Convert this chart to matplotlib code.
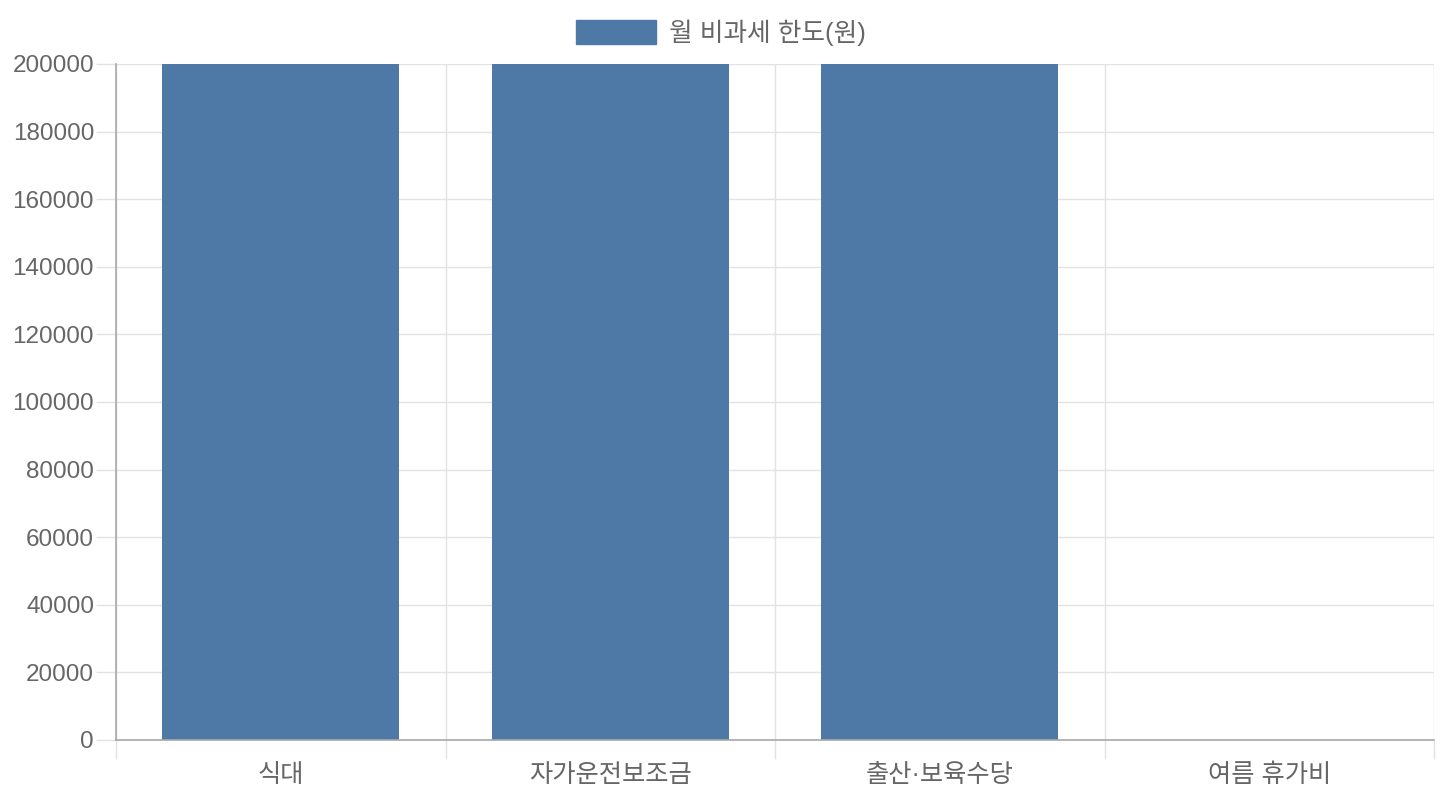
import matplotlib.pyplot as plt
from matplotlib.patches import Rectangle
from matplotlib.ticker import FixedLocator

plt.rcParams['font.family'] = ['Liberation Sans', 'Noto Sans CJK KR', 'DejaVu Sans']

# 데이터
categories = ['식대', '자가운전보조금', '출산·보육수당', '여름 휴가비']
limits = [200000, 200000, 200000, 0]
series_name = '월 비과세 한도(원)'
y_ticks = list(range(0, 200001, 20000))

bar_color = '#4e79a7'
text_color = '#666666'
grid_color = '#e2e2e2'
axis_color = '#a8a8a8'
PX = 0.72  # 1px -> pt (dpi 100)

fig = plt.figure(figsize=(14.4, 8), dpi=100)
ax = fig.add_axes([116 / 1440, 60 / 800, (1434 - 116) / 1440, (740 - 64) / 800])

x = list(range(len(categories)))
ax.bar(x, limits, width=0.72, color=bar_color, zorder=3)

ax.set_xlim(-0.5, len(categories) - 0.5)
ax.set_ylim(0, 200000)

# y축
ax.set_yticks(y_ticks)
ax.set_yticklabels([str(v) for v in y_ticks], family=['Liberation Sans'])
ax.tick_params(axis='y', length=20 * PX, width=1, color=grid_color, labelsize=17.5,
               labelcolor=text_color, pad=2 * PX)
ax.yaxis.grid(True, color=grid_color, linewidth=1, zorder=0)

# x축: 라벨은 가운데, 눈금선은 경계
ax.set_xticks(x)
ax.set_xticklabels(categories, family=['Liberation Sans', 'Noto Sans CJK KR'])
ax.tick_params(axis='x', which='major', length=0, labelsize=18.2,
               labelcolor=text_color, pad=23 * PX)
ax.xaxis.set_minor_locator(FixedLocator([i - 0.5 for i in range(len(categories) + 1)]))
ax.tick_params(axis='x', which='minor', length=19 * PX, width=1, color=grid_color)
ax.xaxis.grid(True, which='minor', color=grid_color, linewidth=1, zorder=0)

for side in ['top', 'right']:
    ax.spines[side].set_visible(False)
for side in ['left', 'bottom']:
    ax.spines[side].set_color(axis_color)
    ax.spines[side].set_linewidth(1.2)
    ax.spines[side].set_zorder(4)

# 범례
fig.patches.append(Rectangle((576 / 1440, 1 - 44 / 800), 80 / 1440, 24 / 800,
                             transform=fig.transFigure, color=bar_color))
fig.text(669 / 1440, 1 - 33 / 800, series_name, ha='left', va='center',
         fontsize=18.5, color=text_color, family=['Liberation Sans', 'Noto Sans CJK KR'])

fig.savefig('out.png', dpi=100)
